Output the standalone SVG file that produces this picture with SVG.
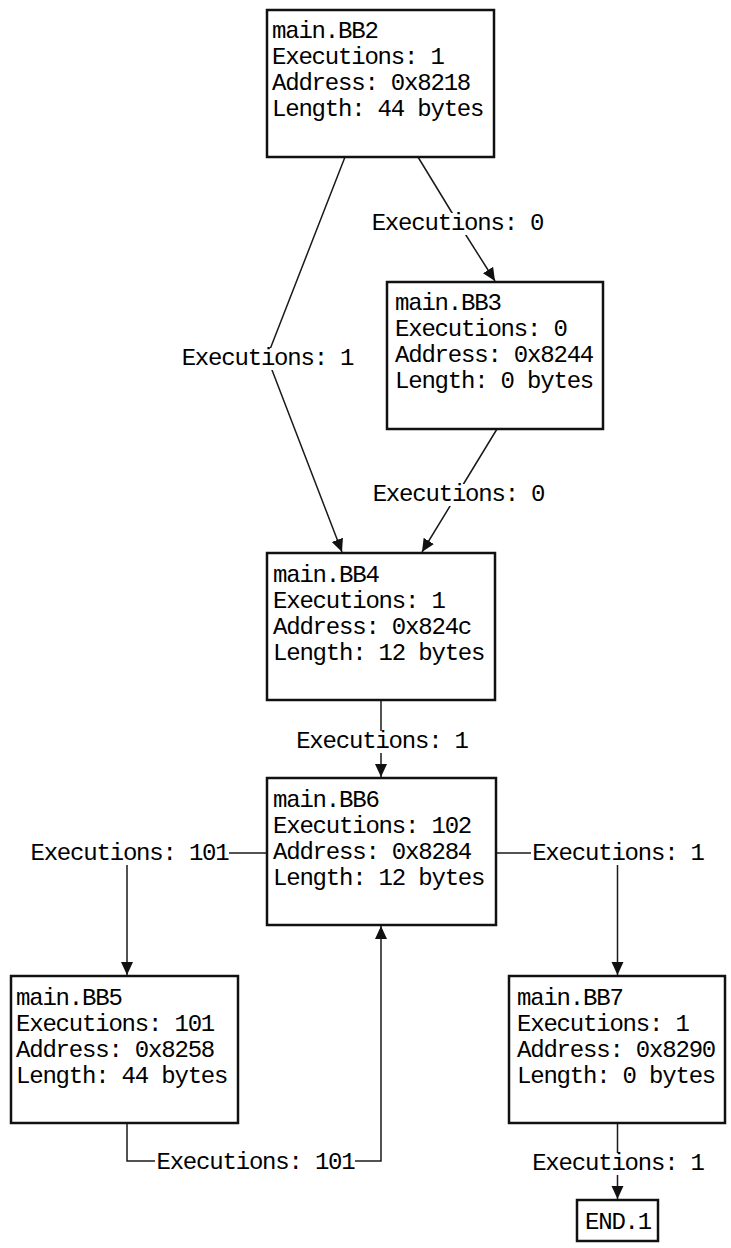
<svg xmlns="http://www.w3.org/2000/svg" width="731" height="1248" viewBox="0 0 731 1248">
<style>
  .box { fill: #ffffff; stroke: #111111; stroke-width: 2.5; }
  .txt { font-family: "Liberation Mono", "DejaVu Sans Mono", monospace; font-size: 24px; letter-spacing: -1.2px; fill: #000000; }
  .lbl { font-family: "Liberation Mono", "DejaVu Sans Mono", monospace; font-size: 24px; letter-spacing: -1.2px; fill: #000000; text-anchor: middle; }
  .edge { fill: none; stroke: #1a1a1a; stroke-width: 1.5; marker-end: url(#arrow); }
  .bg { fill: #ffffff; }
</style>
<defs>
  <marker id="arrow" markerUnits="userSpaceOnUse" markerWidth="14" markerHeight="13" refX="13" refY="6" orient="auto">
    <path d="M0,0 L13,6 L0,12 z" fill="#111111"/>
  </marker>
</defs>
<rect x="0" y="0" width="731" height="1248" fill="#ffffff"/>
<g id="connectors">
  <g id="e-bb2-bb3">
    <path class="edge" d="M418,157 L457,221 L495,281"/>
    <rect class="bg" x="371" y="213" width="174" height="22"/>
    <text class="lbl" x="457.5" y="230">Executions: 0</text>
  </g>
  <g id="e-bb2-bb4">
    <path class="edge" d="M345,157 L267,357 L342,552"/>
    <rect class="bg" x="181" y="348" width="174" height="22"/>
    <text class="lbl" x="267.5" y="365">Executions: 1</text>
  </g>
  <g id="e-bb3-bb4">
    <path class="edge" d="M497,429 L458,493 L422,552"/>
    <rect class="bg" x="372" y="484" width="174" height="22"/>
    <text class="lbl" x="458.5" y="501">Executions: 0</text>
  </g>
  <g id="e-bb4-bb6">
    <path class="edge" d="M381,700 L381,777"/>
    <rect class="bg" x="295" y="731" width="174" height="22"/>
    <text class="lbl" x="382" y="748">Executions: 1</text>
  </g>
  <g id="e-bb6-bb5">
    <path class="edge" d="M267,853 H127 V975"/>
    <rect class="bg" x="29" y="843" width="200" height="22"/>
    <text class="lbl" x="129.5" y="860">Executions: 101</text>
  </g>
  <g id="e-bb6-bb7">
    <path class="edge" d="M496,853 H617.5 V975"/>
    <rect class="bg" x="531" y="843" width="174" height="22"/>
    <text class="lbl" x="618" y="860">Executions: 1</text>
  </g>
  <g id="e-bb5-bb6">
    <path class="edge" d="M127,1123 V1161 H381 V926"/>
    <rect class="bg" x="155" y="1152" width="200" height="22"/>
    <text class="lbl" x="255.5" y="1169">Executions: 101</text>
  </g>
  <g id="e-bb7-end">
    <path class="edge" d="M617.5,1123 V1199"/>
    <rect class="bg" x="531" y="1153" width="174" height="22"/>
    <text class="lbl" x="618" y="1170">Executions: 1</text>
  </g>
</g>
<g id="main.BB2">
  <rect class="box" x="267" y="10" width="227" height="147"/>
  <text class="txt" x="272" y="38">main.BB2</text>
  <text class="txt" x="272" y="64">Executions: 1</text>
  <text class="txt" x="272" y="90">Address: 0x8218</text>
  <text class="txt" x="272" y="116">Length: 44 bytes</text>
</g>
<g id="main.BB3">
  <rect class="box" x="387" y="282" width="216" height="147"/>
  <text class="txt" x="395" y="310">main.BB3</text>
  <text class="txt" x="395" y="336">Executions: 0</text>
  <text class="txt" x="395" y="362">Address: 0x8244</text>
  <text class="txt" x="395" y="388">Length: 0 bytes</text>
</g>
<g id="main.BB4">
  <rect class="box" x="267" y="553" width="228" height="147"/>
  <text class="txt" x="273" y="582">main.BB4</text>
  <text class="txt" x="273" y="608">Executions: 1</text>
  <text class="txt" x="273" y="634">Address: 0x824c</text>
  <text class="txt" x="273" y="660">Length: 12 bytes</text>
</g>
<g id="main.BB6">
  <rect class="box" x="267" y="778" width="229" height="147"/>
  <text class="txt" x="273" y="807">main.BB6</text>
  <text class="txt" x="273" y="833">Executions: 102</text>
  <text class="txt" x="273" y="859">Address: 0x8284</text>
  <text class="txt" x="273" y="885">Length: 12 bytes</text>
</g>
<g id="main.BB5">
  <rect class="box" x="11" y="976" width="227" height="147"/>
  <text class="txt" x="16" y="1005">main.BB5</text>
  <text class="txt" x="16" y="1031">Executions: 101</text>
  <text class="txt" x="16" y="1057">Address: 0x8258</text>
  <text class="txt" x="16" y="1083">Length: 44 bytes</text>
</g>
<g id="main.BB7">
  <rect class="box" x="509" y="976" width="216" height="147"/>
  <text class="txt" x="517" y="1005">main.BB7</text>
  <text class="txt" x="517" y="1031">Executions: 1</text>
  <text class="txt" x="517" y="1057">Address: 0x8290</text>
  <text class="txt" x="517" y="1083">Length: 0 bytes</text>
</g>
<g id="END.1">
  <rect class="box" x="577" y="1200" width="81" height="41"/>
  <text class="lbl" x="618" y="1229">END.1</text>
</g>
</svg>
